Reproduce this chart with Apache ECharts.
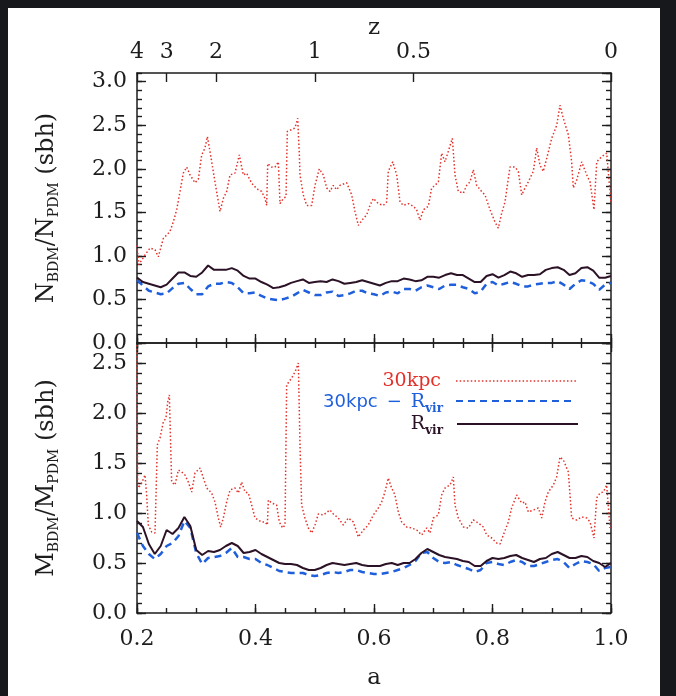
<!DOCTYPE html>
<html>
<head>
<meta charset="utf-8">
<script src="https://cdn.jsdelivr.net/npm/echarts@6/dist/echarts.min.js"></script>
<style>
  html, body { margin: 0; padding: 0; background: #16181c; }
  #chart { width: 676px; height: 696px; }
</style>
</head>
<body>
<div id="chart"></div>
<script>
// Expansion factor grid shared by the smooth profiles
const aGrid = [0.20,0.21,0.22,0.23,0.24,0.25,0.26,0.27,0.28,0.29,
  0.30,0.31,0.32,0.33,0.34,0.35,0.36,0.37,0.38,0.39,
  0.40,0.41,0.42,0.43,0.44,0.45,0.46,0.47,0.48,0.49,
  0.50,0.51,0.52,0.53,0.54,0.55,0.56,0.57,0.58,0.59,
  0.60,0.61,0.62,0.63,0.64,0.65,0.66,0.67,0.68,0.69,
  0.70,0.71,0.72,0.73,0.74,0.75,0.76,0.77,0.78,0.79,
  0.80,0.81,0.82,0.83,0.84,0.85,0.86,0.87,0.88,0.89,
  0.90,0.91,0.92,0.93,0.94,0.95,0.96,0.97,0.98,0.99,1.00];

// Number ratio N_BDM/N_PDM inside R_vir
const nRvir = [0.75,0.70,0.68,0.66,0.64,0.67,0.74,0.81,0.81,0.77,
  0.76,0.81,0.89,0.84,0.84,0.84,0.86,0.83,0.77,0.74,
  0.74,0.70,0.67,0.63,0.64,0.66,0.69,0.71,0.73,0.69,
  0.70,0.71,0.70,0.73,0.71,0.68,0.69,0.70,0.72,0.70,
  0.68,0.66,0.69,0.71,0.71,0.74,0.73,0.71,0.72,0.76,
  0.76,0.75,0.78,0.80,0.78,0.78,0.74,0.70,0.70,0.77,
  0.79,0.75,0.78,0.82,0.80,0.76,0.78,0.78,0.79,0.84,
  0.86,0.87,0.84,0.78,0.80,0.86,0.87,0.83,0.75,0.75,0.77];

// Number ratio in the shell 30kpc - R_vir
const nShell = [0.72,0.66,0.60,0.58,0.56,0.57,0.63,0.68,0.69,0.62,
  0.56,0.56,0.65,0.68,0.68,0.70,0.69,0.64,0.57,0.57,
  0.58,0.54,0.51,0.50,0.49,0.51,0.53,0.57,0.61,0.58,
  0.55,0.55,0.58,0.59,0.54,0.55,0.57,0.60,0.60,0.57,
  0.56,0.54,0.58,0.59,0.57,0.62,0.62,0.60,0.64,0.66,
  0.64,0.62,0.66,0.67,0.67,0.64,0.62,0.57,0.59,0.68,
  0.70,0.66,0.68,0.70,0.68,0.65,0.65,0.67,0.68,0.69,
  0.69,0.71,0.67,0.62,0.68,0.72,0.71,0.68,0.61,0.67,0.69];

// Mass ratio M_BDM/M_PDM inside R_vir
const mRvir = [0.92,0.86,0.69,0.59,0.67,0.83,0.79,0.85,0.96,0.87,
  0.63,0.58,0.62,0.61,0.63,0.67,0.70,0.67,0.60,0.61,
  0.63,0.59,0.56,0.53,0.50,0.49,0.49,0.48,0.45,0.43,
  0.43,0.45,0.48,0.50,0.49,0.48,0.49,0.50,0.48,0.47,
  0.47,0.47,0.49,0.50,0.48,0.50,0.50,0.54,0.60,0.64,
  0.61,0.58,0.56,0.55,0.54,0.52,0.51,0.47,0.47,0.52,
  0.55,0.54,0.55,0.57,0.58,0.55,0.53,0.51,0.54,0.55,
  0.59,0.61,0.58,0.55,0.55,0.57,0.56,0.52,0.50,0.46,0.50];

// Mass ratio in the shell 30kpc - R_vir
const mShell = [0.80,0.67,0.59,0.54,0.59,0.67,0.70,0.77,0.92,0.85,
  0.60,0.49,0.55,0.56,0.57,0.60,0.65,0.56,0.56,0.54,
  0.54,0.50,0.48,0.45,0.42,0.41,0.40,0.40,0.40,0.38,
  0.37,0.38,0.40,0.41,0.40,0.41,0.43,0.43,0.41,0.40,
  0.39,0.39,0.40,0.41,0.43,0.45,0.48,0.52,0.60,0.61,
  0.55,0.51,0.50,0.51,0.48,0.46,0.44,0.41,0.43,0.50,
  0.51,0.49,0.48,0.51,0.53,0.51,0.47,0.47,0.49,0.51,
  0.53,0.54,0.51,0.45,0.49,0.52,0.51,0.49,0.42,0.45,0.46];

// Number ratio inside 30kpc (sampled where it changes)
const aN30 = [0.200,0.203,0.2135,0.222,0.2304,0.236,0.2444,0.2557,0.2613,0.267,
  0.2726,0.2781,0.2839,0.2895,0.2979,0.3035,0.3092,0.3148,0.3188,0.3232,
  0.3316,0.3401,0.3457,0.3514,0.357,0.3654,0.3727,0.3794,0.3851,0.3907,
  0.3963,0.4047,0.4105,0.416,0.4189,0.4206,0.4273,0.4329,0.4385,0.4414,
  0.447,0.4515,0.4537,0.4611,0.4667,0.4712,0.474,0.4751,0.4807,0.4864,
  0.4949,0.5004,0.5077,0.5144,0.5202,0.5257,0.5313,0.537,0.5426,0.5539,
  0.5624,0.5679,0.5735,0.582,0.5876,0.5932,0.5989,0.6073,0.6157,0.6214,
  0.6241,0.6316,0.6383,0.6439,0.6495,0.6579,0.6664,0.672,0.6776,0.6833,
  0.6917,0.6973,0.703,0.7086,0.7142,0.7198,0.7254,0.7322,0.7367,0.7423,
  0.7508,0.7564,0.762,0.7676,0.7733,0.7817,0.7873,0.7958,0.8042,0.8098,
  0.8155,0.8211,0.8295,0.838,0.8436,0.8493,0.8549,0.8604,0.8689,0.8746,
  0.8802,0.8857,0.8915,0.8999,0.9084,0.9139,0.9195,0.928,0.9336,0.9364,
  0.9421,0.9505,0.959,0.9646,0.9713,0.9759,0.9843,0.9927,1.000];
const vN30 = [1.12,0.90,1.01,1.09,1.07,0.99,1.20,1.28,1.39,1.53,
  1.74,1.95,2.02,1.93,1.84,1.88,2.16,2.24,2.37,2.20,
  1.85,1.51,1.66,1.74,1.93,1.95,2.16,1.93,1.95,1.87,
  1.81,1.76,1.74,1.66,1.58,2.06,2.02,2.02,2.08,1.60,
  1.66,1.68,2.43,2.45,2.47,2.58,2.16,1.93,1.70,1.58,
  1.58,1.81,2.00,1.93,1.78,1.74,1.81,1.76,1.81,1.84,
  1.70,1.51,1.35,1.43,1.47,1.58,1.66,1.60,1.58,1.62,
  1.97,2.08,1.93,1.62,1.58,1.60,1.57,1.53,1.41,1.53,
  1.57,1.78,1.81,1.85,2.18,2.08,2.20,2.35,1.93,1.74,
  1.72,1.81,1.85,1.99,1.81,1.74,1.70,1.53,1.39,1.32,
  1.49,1.62,2.02,2.02,1.97,1.70,1.78,1.85,1.97,2.24,
  2.04,1.97,2.12,2.35,2.50,2.73,2.58,2.39,2.08,1.78,
  1.87,2.08,1.93,1.85,1.53,2.08,2.14,2.18,1.60];

// Mass ratio inside 30kpc
const aM30 = [0.200,0.201,0.2022,0.2079,0.2135,0.2163,0.2191,0.2248,0.2304,0.2330,
  0.2343,0.2388,0.2444,0.2489,0.2518,0.2546,0.2568,0.2585,0.2641,0.2698,
  0.2754,0.281,0.2866,0.2923,0.2979,0.3063,0.312,0.3176,0.326,0.3316,
  0.3373,0.3412,0.3457,0.3513,0.357,0.3654,0.371,0.3767,0.3823,0.3879,
  0.3935,0.3992,0.4048,0.4104,0.416,0.420,0.4217,0.4273,0.4357,0.4402,
  0.4459,0.4498,0.4526,0.461,0.4667,0.4723,0.4751,0.4779,0.4835,0.4892,
  0.4948,0.5004,0.506,0.5145,0.5257,0.5314,0.5398,0.5482,0.5567,0.5651,
  0.5736,0.582,0.5904,0.5989,0.6073,0.6129,0.6185,0.6241,0.6298,0.6354,
  0.641,0.6467,0.6551,0.6636,0.672,0.6804,0.6889,0.6945,0.7001,0.7086,
  0.7142,0.7198,0.7283,0.7339,0.7367,0.7423,0.7508,0.7592,0.7676,0.7761,
  0.7845,0.7901,0.7986,0.807,0.8127,0.8183,0.8267,0.8323,0.8408,0.8493,
  0.8549,0.8605,0.8689,0.8774,0.883,0.8886,0.8942,0.9027,0.9083,0.9139,
  0.9196,0.928,0.9336,0.9421,0.9505,0.959,0.9646,0.9713,0.9758,0.9814,
  0.9871,0.9927,0.9983];
const vM30 = [2.68,1.28,1.25,1.30,1.38,1.18,0.88,0.81,0.80,0.80,
  1.68,1.75,1.91,1.95,2.11,2.18,1.68,1.31,1.28,1.43,
  1.41,1.38,1.31,1.21,1.40,1.45,1.35,1.25,1.20,1.11,
  0.95,0.86,0.95,1.11,1.23,1.25,1.20,1.31,1.21,1.20,
  1.08,0.95,0.93,0.91,0.91,0.88,1.13,1.10,1.08,0.91,
  0.85,0.88,2.28,2.35,2.41,2.50,1.68,1.08,0.95,0.85,
  0.80,0.88,0.99,0.98,1.03,0.99,0.95,0.88,0.95,0.91,
  0.76,0.83,0.88,0.98,1.05,1.11,1.21,1.35,1.25,1.18,
  1.01,0.91,0.86,0.85,0.83,0.78,0.85,0.80,0.95,0.98,
  1.18,1.25,1.28,1.36,1.08,0.95,0.86,0.85,0.93,0.90,
  0.86,0.78,0.75,0.70,0.69,0.78,0.91,1.05,1.18,1.10,
  1.11,1.01,1.03,1.05,0.95,1.11,1.21,1.28,1.36,1.56,
  1.53,1.41,0.95,0.93,0.96,0.95,0.91,0.75,1.15,1.20,
  1.21,1.28,0.85];

// Redshift labels on the upper axis
const zTicks = [4, 3, 2, 1, 0.5, 0];
const zTickA = zTicks.map(z => 1 / (1 + z));

const ink = '#1d1d1d';
const serif = "'DejaVu Serif', serif";
const red = '#e3312a';
const blue = '#1f5fdc';
const dark = '#2b1226';

const pairs = (xs, ys) => xs.map((x, i) => [x, ys[i]]);

const tickStyle = { color: ink, width: 1.4 };
const lineCfg = { show: true, onZero: false, lineStyle: { color: ink, width: 1.5 } };
const labelFont = { fontFamily: serif, fontSize: 22, color: ink };

function axis(extra) {
  return Object.assign({
    type: 'value',
    splitLine: { show: false },
    axisLine: lineCfg,
    axisTick: { show: false },
    axisLabel: { show: false },
    silent: true
  }, extra);
}
const major = { show: true, inside: true, length: 9, lineStyle: tickStyle };
const minor = { show: true, inside: true, length: 5, lineStyle: tickStyle };
const noLine = { show: false, onZero: false };

const ratioRich = {
  n: { fontFamily: serif, fontSize: 24, color: ink },
  s: { fontFamily: serif, fontSize: 14, color: ink, padding: [14, 0, 0, 0] }
};

const xAxes = [
  // upper panel
  axis({ gridIndex: 0, position: 'bottom', min: 0.2, max: 1.0, interval: 0.2, axisTick: major }),
  axis({ gridIndex: 0, position: 'bottom', min: 0.2, max: 1.0, interval: 0.05, axisLine: noLine, axisTick: minor }),
  axis({ gridIndex: 0, position: 'top', min: 0.2, max: 1.0,
    axisTick: Object.assign({ customValues: zTickA }, major),
    axisLabel: Object.assign({ show: true, customValues: zTickA, margin: 10,
      formatter: v => String(Math.round((1 / v - 1) * 100) / 100) }, labelFont),
    name: 'z', nameLocation: 'middle', nameGap: 33,
    nameTextStyle: { fontFamily: serif, fontSize: 23, color: ink } }),
  // lower panel
  axis({ gridIndex: 1, position: 'bottom', min: 0.2, max: 1.0, interval: 0.2, axisTick: major,
    axisLabel: Object.assign({ show: true, margin: 15, formatter: v => v.toFixed(1) }, labelFont),
    name: 'a', nameLocation: 'middle', nameGap: 54,
    nameTextStyle: { fontFamily: serif, fontSize: 23, color: ink } }),
  axis({ gridIndex: 1, position: 'bottom', min: 0.2, max: 1.0, interval: 0.05, axisLine: noLine, axisTick: minor }),
  axis({ gridIndex: 1, position: 'top', min: 0.2, max: 1.0, interval: 0.2, axisTick: major }),
  axis({ gridIndex: 1, position: 'top', min: 0.2, max: 1.0, interval: 0.05, axisLine: noLine, axisTick: minor })
];

function yAxesFor(g, max, nameText) {
  return [
    axis({ gridIndex: g, position: 'left', min: 0, max: max, interval: 0.5, axisTick: major,
      axisLabel: Object.assign({ show: true, margin: 10, showMaxLabel: false,
        formatter: v => v.toFixed(1) }, labelFont),
      name: nameText, nameLocation: 'middle', nameRotate: 90, nameGap: 76,
      nameTextStyle: { fontFamily: serif, fontSize: 24, color: ink, rich: ratioRich } }),
    axis({ gridIndex: g, position: 'left', min: 0, max: max, interval: 0.1, axisLine: noLine, axisTick: minor }),
    axis({ gridIndex: g, position: 'right', min: 0, max: max, interval: 0.5, axisTick: major }),
    axis({ gridIndex: g, position: 'right', min: 0, max: max, interval: 0.1, axisLine: noLine, axisTick: minor })
  ];
}
const yAxes = yAxesFor(0, 3.1, '{n|N}{s|BDM}{n|/N}{s|PDM}{n| (sbh)}')
  .concat(yAxesFor(1, 2.7, '{n|M}{s|BDM}{n|/M}{s|PDM}{n| (sbh)}'));

function curve(xi, yi, data, color, width, dash, z) {
  return {
    type: 'line', xAxisIndex: xi, yAxisIndex: yi, data: data,
    symbol: 'none', showSymbol: false, silent: true, z: z,
    lineStyle: { color: color, width: width, type: dash, cap: 'butt' }
  };
}

const series = [
  curve(0, 0, pairs(aN30, vN30), red, 1.5, [1.5, 2.2], 3),
  curve(0, 0, pairs(aGrid, nShell), blue, 2.5, [7, 5], 4),
  curve(0, 0, pairs(aGrid, nRvir), dark, 2, 'solid', 5),
  curve(3, 4, pairs(aM30, vM30), red, 1.5, [1.5, 2.2], 3),
  curve(3, 4, pairs(aGrid, mShell), blue, 2.5, [7, 5], 4),
  curve(3, 4, pairs(aGrid, mRvir), dark, 2, 'solid', 5)
];

const legendRich = {
  r: { fontFamily: serif, fontSize: 19 },
  v: { fontFamily: serif, fontSize: 12, fontWeight: 'bold', padding: [13, 0, 0, 0] },
  k: { fontFamily: "'DejaVu Sans', sans-serif", fontSize: 18 },
  m: { fontFamily: serif, fontSize: 18, padding: [0, 9, 0, 9] }
};
function richFill(col) {
  const out = {};
  Object.keys(legendRich).forEach(k => { out[k] = Object.assign({ fill: col }, legendRich[k]); });
  return out;
}

const graphic = [
  { type: 'rect', z: -100, silent: true,
    shape: { x: 8, y: 8, width: 652, height: 688 }, style: { fill: '#ffffff' } },
  { type: 'text', z: 10, silent: true,
    style: { x: 441, y: 381, text: '30kpc', align: 'right', verticalAlign: 'middle',
      fill: red, font: "19px 'DejaVu Serif', serif" } },
  { type: 'line', z: 10, silent: true,
    shape: { x1: 456, y1: 381, x2: 577, y2: 381 },
    style: { stroke: red, lineWidth: 1.5, lineDash: [1.5, 2.2] } },
  { type: 'text', z: 10, silent: true,
    style: { x: 443, y: 402, text: '{k|30kpc}{m|\u2212}{r|R}{v|vir}', rich: richFill(blue),
      align: 'right', verticalAlign: 'middle', fill: blue } },
  { type: 'line', z: 10, silent: true,
    shape: { x1: 456, y1: 401, x2: 572, y2: 401 },
    style: { stroke: blue, lineWidth: 2, lineDash: [7, 5] } },
  { type: 'text', z: 10, silent: true,
    style: { x: 443, y: 424, text: '{r|R}{v|vir}', rich: richFill(dark),
      align: 'right', verticalAlign: 'middle', fill: dark } },
  { type: 'line', z: 10, silent: true,
    shape: { x1: 457, y1: 424, x2: 578, y2: 424 },
    style: { stroke: dark, lineWidth: 2 } }
];

const chart = echarts.init(document.getElementById('chart'), null, { renderer: 'canvas' });
chart.setOption({
  backgroundColor: '#16181c',
  animation: false,
  grid: [
    { left: 137, top: 73, width: 474, height: 270, containLabel: false },
    { left: 137, top: 343, width: 474, height: 270, containLabel: false }
  ],
  xAxis: xAxes,
  yAxis: yAxes,
  series: series,
  graphic: graphic
});
</script>
</body>
</html>
